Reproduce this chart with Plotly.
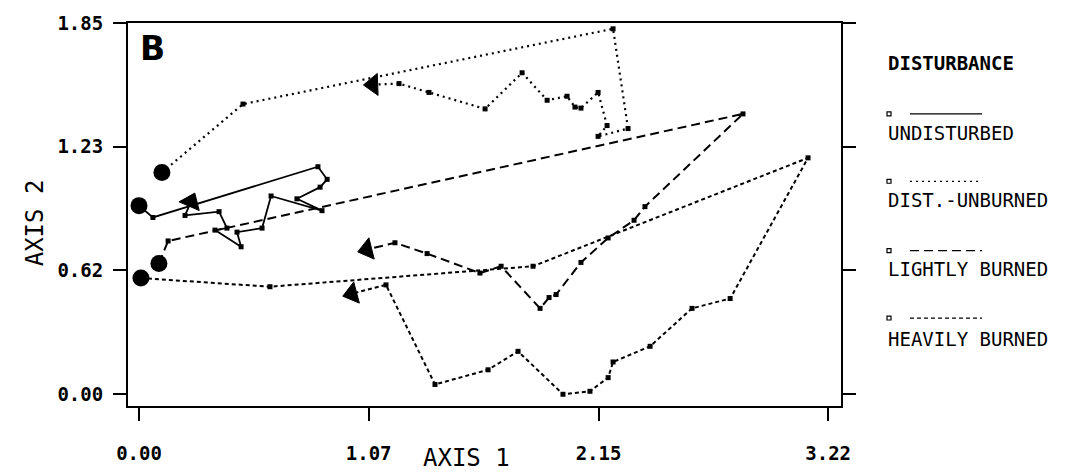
import plotly.graph_objects as go

# ---------------- data ----------------
undist_x = [0.000, 0.065, 0.836, 0.879, 0.846, 0.738, 0.855, 0.617, 0.575, 0.458, 0.477, 0.355, 0.411, 0.374, 0.215, 0.243]
undist_y = [0.940, 0.881, 1.134, 1.071, 1.032, 0.974, 0.915, 0.988, 0.828, 0.808, 0.735, 0.818, 0.828, 0.910, 0.891, 0.959]

unburn_x = [0.107, 0.486, 2.215, 2.285, 2.145, 2.187, 2.145, 2.065, 2.037, 2.000, 1.907, 1.790, 1.617, 1.355, 1.215, 1.093]
unburn_y = [1.105, 1.446, 1.821, 1.324, 1.285, 1.339, 1.504, 1.426, 1.431, 1.485, 1.465, 1.602, 1.422, 1.504, 1.548, 1.543]

light_x = [0.093, 0.136, 2.822, 2.364, 2.313, 2.192, 2.065, 1.949, 1.916, 1.874, 1.692, 1.593, 1.346, 1.196, 1.065]
light_y = [0.652, 0.764, 1.397, 0.935, 0.867, 0.779, 0.657, 0.497, 0.482, 0.428, 0.638, 0.604, 0.701, 0.755, 0.721]

heavy_x = [0.009, 0.612, 1.841, 3.126, 2.762, 2.584, 2.388, 2.215, 2.192, 2.107, 1.981, 1.771, 1.631, 1.383, 1.154, 0.995]
heavy_y = [0.579, 0.536, 0.638, 1.178, 0.477, 0.428, 0.239, 0.161, 0.083, 0.015, 0.000, 0.214, 0.122, 0.049, 0.545, 0.501]

series_names = ["UNDISTURBED", "DIST.-UNBURNED", "LIGHTLY BURNED", "HEAVILY BURNED"]
tick_vals_x = [0.0, 1.073, 2.147, 3.22]
tick_text_x = ["0.00", "1.07", "2.15", "3.22"]
tick_vals_y = [0.0, 0.617, 1.233, 1.85]
tick_text_y = ["0.00", "0.62", "1.23", "1.85"]

# ---------------- styling ----------------
dashes = ["solid", "2px,4px", "9px,5px", "4px,3px"]
widths = [1.8, 2.2, 2.0, 2.0]
series = [(undist_x, undist_y), (unburn_x, unburn_y), (light_x, light_y), (heavy_x, heavy_y)]

fig = go.Figure()
for (xs, ys), dash, w, name in zip(series, dashes, widths, series_names):
    fig.add_trace(go.Scatter(
        x=xs, y=ys, mode="lines", name=name,
        line=dict(color="black", width=w, dash=dash), hoverinfo="skip"))
    fig.add_trace(go.Scatter(
        x=xs[1:-1], y=ys[1:-1], mode="markers",
        marker=dict(symbol="square", size=5, color="black", opacity=1), hoverinfo="skip"))
    fig.add_trace(go.Scatter(
        x=xs[:1], y=ys[:1], mode="markers",
        marker=dict(symbol="circle", size=17, color="black", opacity=1), hoverinfo="skip"))
    fig.add_trace(go.Scatter(
        x=xs[-2:], y=ys[-2:], mode="markers",
        marker=dict(symbol="triangle-up", size=[0, 19], color="black", opacity=1,
                    angleref="previous", line=dict(width=1, color="black")),
        hoverinfo="skip"))

L, R, T, B = 128, 841, 15, 407
W, H = 1066, 476
x0, x1 = -0.0514, 3.280
y0, y1 = -0.0584, 1.850

tickfont = dict(family="DejaVu Sans Mono", size=19, color="black", weight="bold")

fig.update_layout(
    width=W, height=H,
    margin=dict(l=L, r=W - R, t=T, b=H - B, pad=0),
    paper_bgcolor="white", plot_bgcolor="white",
    showlegend=False,
    xaxis=dict(range=[x0, x1], tickvals=tick_vals_x, ticktext=tick_text_x,
               showgrid=False, zeroline=False, showline=True, linecolor="black",
               linewidth=2, mirror=True, ticks="outside", ticklen=13, tickwidth=2,
               tickcolor="black", tickfont=tickfont, ticklabelstandoff=16),
    yaxis=dict(range=[y0, y1], tickvals=tick_vals_y, ticktext=tick_text_y,
               showgrid=False, zeroline=False, showline=True, linecolor="black",
               linewidth=2, mirror="ticks", ticks="outside", ticklen=13, tickwidth=2,
               tickcolor="black", tickfont=tickfont, ticklabelstandoff=6),
)

def px(xp):
    return (xp - L) / (R - L)

def py(yp):
    return (B - yp) / (B - T)

def note(text, xp, yp, size, family="DejaVu Sans Mono", xanchor="center", angle=0):
    return dict(text=text, x=px(xp), y=py(yp), xref="paper", yref="paper",
                xanchor=xanchor, yanchor="middle", textangle=angle, showarrow=False,
                font=dict(family=family, size=size, color="black"))

ann = [
    note("AXIS 1", 466, 460, 24),
    note("AXIS 2", 35, 220, 24, angle=-90),
    note("<b>B</b>", 152, 41, 33, family="DejaVu Sans"),
    note("<b>DISTURBANCE</b>", 886, 56, 19, xanchor="left"),
]

shapes = []
sample_y = [108, 177, 248, 317]
text_y = [128, 196, 267, 338]
for name, dash, sy, ty in zip(series_names, dashes, sample_y, text_y):
    ann.append(note(name, 886, ty, 19, xanchor="left"))
    shapes.append(dict(type="line", xref="paper", yref="paper",
                       x0=px(910), x1=px(982), y0=py(sy), y1=py(sy),
                       line=dict(color="black", width=1.2, dash=dash)))
    shapes.append(dict(type="rect", xref="paper", yref="paper",
                       x0=px(887), x1=px(891), y0=py(sy + 2), y1=py(sy - 2),
                       line=dict(color="black", width=1.2), fillcolor="white"))

fig.update_layout(annotations=ann, shapes=shapes)
fig.write_html("out.html")
